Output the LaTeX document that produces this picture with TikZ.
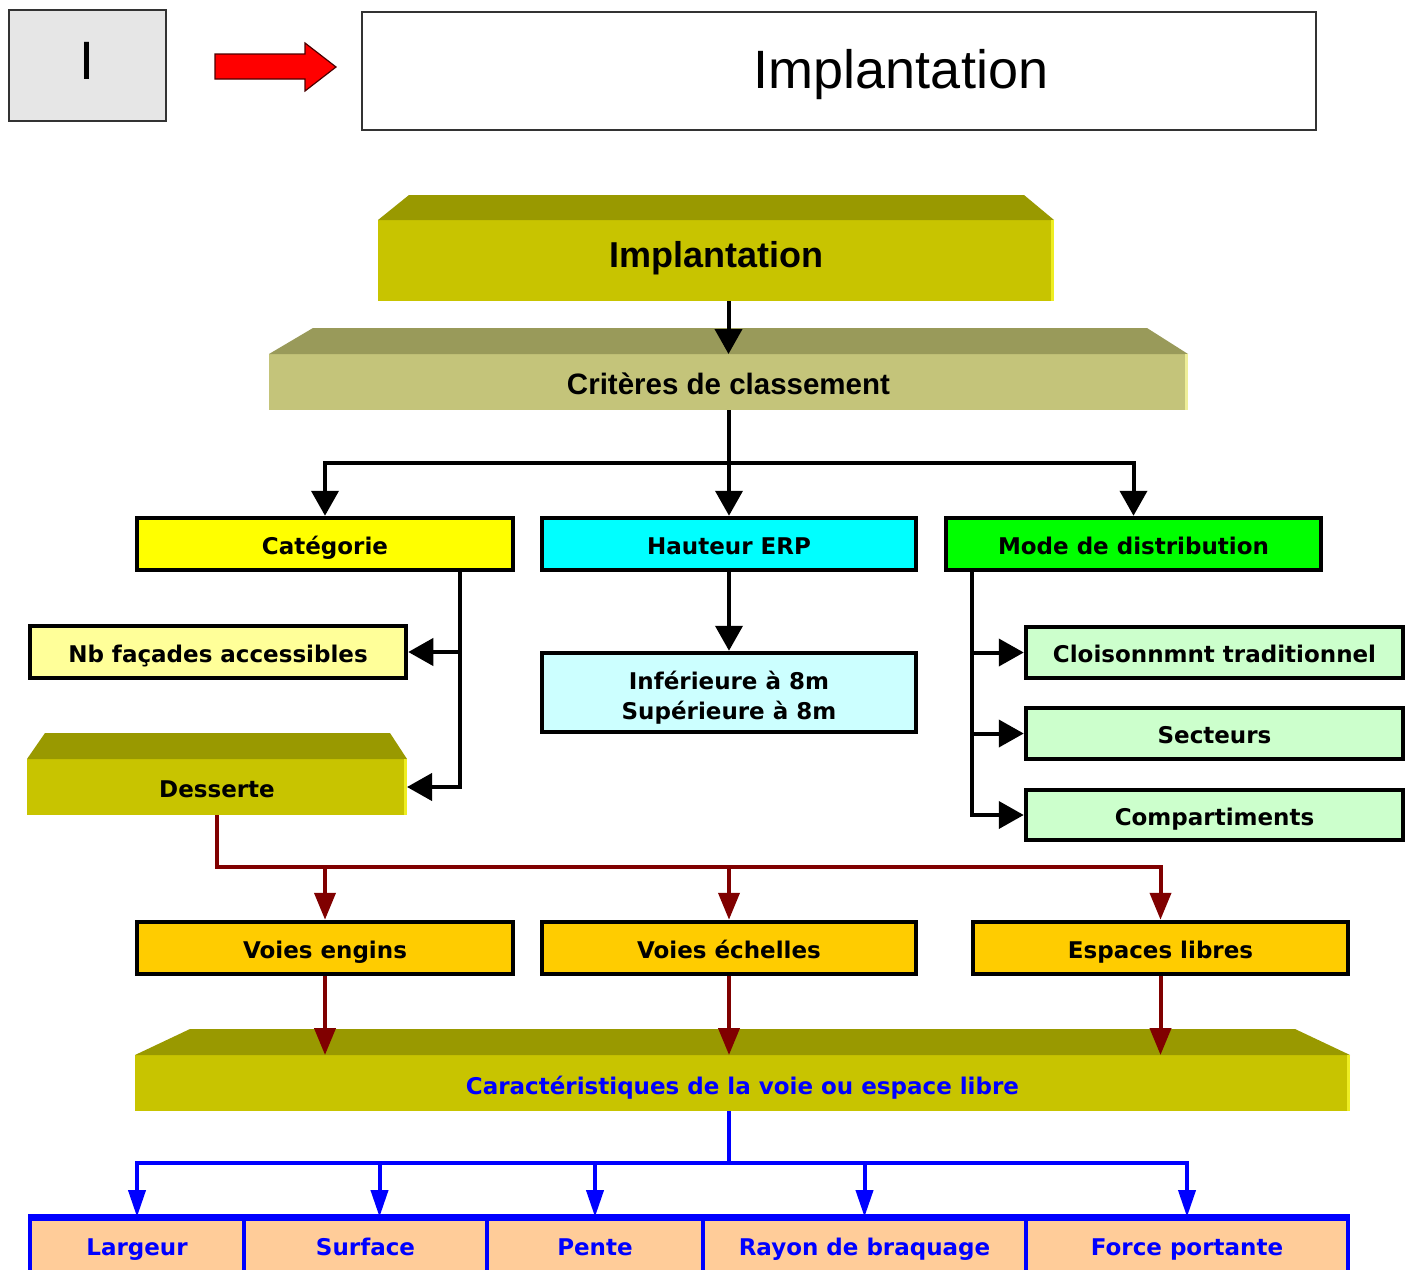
\documentclass[tikz,border=0pt]{standalone}
\usepackage{fontspec}
\setmainfont{DejaVu Sans}
\newfontfamily\arialf{Liberation Sans}
\usetikzlibrary{arrows.meta,calc}
\definecolor{implFront}{HTML}{C8C400}
\definecolor{implTop}{HTML}{999900}
\definecolor{implEdge}{HTML}{EEEE22}
\definecolor{critFront}{HTML}{C4C47A}
\definecolor{critTop}{HTML}{999A5A}
\definecolor{critEdge}{HTML}{EEEE99}
\definecolor{catY}{HTML}{FFFF00}
\definecolor{hautC}{HTML}{00FFFF}
\definecolor{modeG}{HTML}{00FF00}
\definecolor{nbY}{HTML}{FFFF99}
\definecolor{infC}{HTML}{CCFFFF}
\definecolor{clG}{HTML}{CCFFCC}
\definecolor{voieO}{HTML}{FFCC00}
\definecolor{botP}{HTML}{FFCC99}
\definecolor{darkred}{HTML}{800000}
\definecolor{pureblue}{HTML}{0000FF}
\definecolor{frameGray}{HTML}{333333}
\definecolor{boxGray}{HTML}{E6E6E6}
\begin{document}
\begin{tikzpicture}[x=1pt,y=-1pt,
  box/.style={draw=black, line width=4.5pt, inner sep=0pt, minimum height=52pt,
    text height=24pt, text depth=4pt,
    font=\bfseries\fontsize{23}{30}\selectfont, align=center, text=black},
  botbox/.style={draw=pureblue, line width=4pt, fill=botP, inner sep=0pt, minimum height=58pt,
    text height=22pt, text depth=8pt,
    font=\bfseries\fontsize{23}{30}\selectfont, text=pureblue},
  bevelfront/.style={inner sep=0pt, outer sep=0pt},
  blk/.style={draw=black, line width=4pt},
  blkarr/.style={blk, -{Triangle[length=25pt,width=27pt]}},
  rdarr/.style={draw=darkred, line width=4pt, -{Triangle[length=27pt,width=21pt]}},
  blarr/.style={draw=pureblue, line width=4pt, -{Triangle[length=27pt,width=17pt]}},
]
\useasboundingbox (0,0) rectangle (1413,1269);
\clip (0,0) rectangle (1413,1269);
\fill[white] (0,0) rectangle (1413,1269);

% ---------- header ----------
\node[draw=frameGray, line width=2.5pt, fill=boxGray, minimum width=157pt, minimum height=111pt,
  inner sep=0pt, text height=38pt, text depth=11pt,
  font=\arialf\fontsize{54}{54}\selectfont] (num) at (87.5,65.5) {I};
\draw[draw=black!70!red, line width=1.2pt, fill=red]
  (215,54) -- (305,54) -- (305,43) -- (336,67) -- (305,91) -- (305,79) -- (215,79) -- cycle;
\node[draw=frameGray, line width=2pt, fill=white, minimum width=954pt, minimum height=118pt,
  inner sep=0pt] (hdr) at (839,71) {};
\node[font=\arialf\fontsize{54}{54}\selectfont, inner sep=0pt] (hdrtxt) at (901,75) {Implantation};

% ---------- bevel boxes ----------
% Implantation
\node[bevelfront, fill=implFront, minimum width=676pt, minimum height=81pt,
  text height=26pt, text depth=13pt,
  font=\arialf\bfseries\fontsize{36}{36}\selectfont] (impl) at (716,260.5) {Implantation};
\fill[implTop] (impl.north west) -- ($(impl.north west)+(31,-25)$) -- ($(impl.north east)+(-30,-25)$) -- (impl.north east) -- cycle;
\fill[implEdge] ($(impl.north east)+(-3,0)$) rectangle (impl.south east);

% Critères
\node[bevelfront, fill=critFront, minimum width=919pt, minimum height=56pt,
  text height=28pt, text depth=4pt,
  font=\arialf\bfseries\fontsize{29.5}{30}\selectfont] (crit) at (728.5,382) {Critères de classement};
\fill[critTop] (crit.north west) -- ($(crit.north west)+(44,-26)$) -- ($(crit.north east)+(-41,-26)$) -- (crit.north east) -- cycle;
\fill[critEdge] ($(crit.north east)+(-3,0)$) rectangle (crit.south east);

% Desserte
\node[bevelfront, fill=implFront, minimum width=380pt, minimum height=56pt,
  text height=24pt, text depth=4pt,
  font=\bfseries\fontsize{23}{30}\selectfont] (dess) at (217,787) {Desserte};
\fill[implTop] (dess.north west) -- ($(dess.north west)+(18,-26)$) -- ($(dess.north east)+(-17,-26)$) -- (dess.north east) -- cycle;
\fill[implEdge] ($(dess.north east)+(-3,0)$) rectangle (dess.south east);

% Caractéristiques
\node[bevelfront, fill=implFront, minimum width=1215pt, minimum height=56pt, text=pureblue,
  text height=26pt, text depth=4pt,
  font=\bfseries\fontsize{23}{30}\selectfont] (car) at (742.5,1083) {Caractéristiques de la voie ou espace libre};
\fill[implTop] (car.north west) -- ($(car.north west)+(55,-26)$) -- ($(car.north east)+(-55,-26)$) -- (car.north east) -- cycle;
\fill[implEdge] ($(car.north east)+(-3,0)$) rectangle (car.south east);

% ---------- level 1 boxes ----------
\node[box, fill=catY, minimum width=376pt] (cat) at (325,544) {Catégorie};
\node[box, fill=hautC, minimum width=374pt] (haut) at (729,544) {Hauteur ERP};
\node[box, fill=modeG, minimum width=375pt] (mode) at (1133.5,544) {Mode de distribution};

\node[box, fill=nbY, minimum width=376pt] (nb) at (218,652) {Nb façades accessibles};
\node[box, fill=infC, minimum width=374pt, minimum height=79pt, text height=, text depth=] (inf) at (729,692.5)
  {\raisebox{-6pt}[\height][\depth]{\begin{tabular}{@{}c@{}}Inférieure à 8m\\Supérieure à 8m\end{tabular}}};
\node[box, fill=clG, minimum width=377pt, minimum height=51pt] (cl) at (1214.5,652.5) {Cloisonnmnt traditionnel};
\node[box, fill=clG, minimum width=377pt, minimum height=51pt] (sec) at (1214.5,733.5) {Secteurs};
\node[box, fill=clG, minimum width=377pt, minimum height=50pt] (comp) at (1214.5,815) {Compartiments};

\node[box, fill=voieO, minimum width=376pt] (ve) at (325,948) {Voies engins};
\node[box, fill=voieO, minimum width=374pt] (vech) at (729,948) {Voies échelles};
\node[box, fill=voieO, minimum width=375pt] (esp) at (1160.5,948) {Espaces libres};

% ---------- bottom row ----------
\node[botbox, minimum width=214pt] (larg) at (137,1248) {Largeur};
\node[botbox, minimum width=243pt] (surf) at (365.5,1248) {Surface};
\node[botbox, minimum width=216pt] (pente) at (595,1248) {Pente};
\node[botbox, minimum width=323pt] (rayon) at (864.5,1248) {Rayon de braquage};
\node[botbox, minimum width=322pt] (force) at (1187,1248) {Force portante};
\draw[pureblue, line width=6pt] (larg.north west) -- (force.north east);

% ---------- connectors ----------
\draw[blkarr] (impl.south -| crit.north) -- (crit.north);
\coordinate (b1) at ($(crit.south)+(0,53)$);
\draw[blkarr] (crit.south) -- (b1) -| (cat.north);
\draw[blkarr] (b1) -| (mode.north);
\draw[blkarr] (b1) -- (b1 -| haut.north) -- (haut.north);

\coordinate (c1) at ($(cat.south east)+(-55,0)$);
\draw[blkarr] (c1) |- (nb.east);
\draw[blkarr] (c1) |- (dess.east);

\draw[blkarr] (haut.south) -- (inf.north);

\coordinate (m1) at ($(mode.south west)+(28,0)$);
\draw[blkarr] (m1) |- (cl.west);
\draw[blkarr] (m1) |- (sec.west);
\draw[blkarr] (m1) |- (comp.west);

\coordinate (d1) at ($(dess.south)+(0,52)$);
\draw[rdarr] (dess.south) -- (d1) -| (esp.north);
\draw[rdarr] (d1 -| ve.north) -- (ve.north);
\draw[rdarr] (d1 -| vech.north) -- (vech.north);

\draw[rdarr] (ve.south) -- (ve.south |- car.north);
\draw[rdarr] (vech.south) -- (vech.south |- car.north);
\draw[rdarr] (esp.south) -- (esp.south |- car.north);

\coordinate (c2) at (car.south -| vech.south);
\coordinate (e1) at ($(c2)+(0,52)$);
\draw[draw=pureblue, line width=4pt] (c2) -- (e1);
\coordinate (s2) at ($(surf.north)+(14,0)$);
\draw[blarr] (e1) -| (larg.north);
\draw[blarr] (e1) -| (s2);
\draw[blarr] (e1) -| (pente.north);
\draw[blarr] (e1) -| (rayon.north);
\draw[blarr] (e1) -| (force.north);
\end{tikzpicture}
\end{document}
